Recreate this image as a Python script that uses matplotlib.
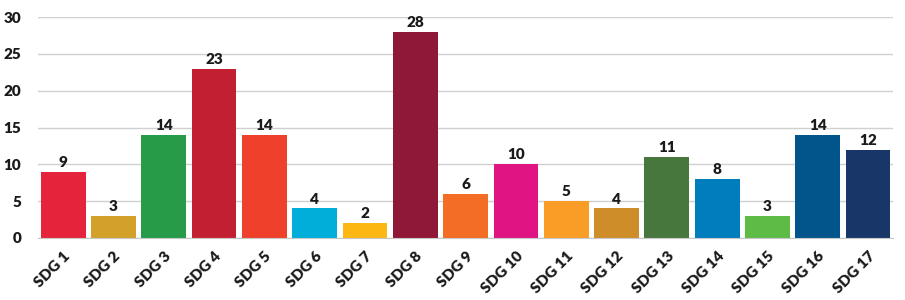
import matplotlib.pyplot as plt

labels = ["SDG %d" % i for i in range(1, 18)]
values = [9, 3, 14, 23, 14, 4, 2, 28, 6, 10, 5, 4, 11, 8, 3, 14, 12]
colors = ["#E5243B", "#D3A029", "#279B48", "#C31F33", "#EF402B", "#00AED9",
          "#FDB713", "#8F1838", "#F36D25", "#E11484", "#F99D26", "#CF8D2A",
          "#48773E", "#007DBC", "#5DBB46", "#02558B", "#183668"]

plt.rcParams['font.family'] = ['Lato', 'DejaVu Sans']
plt.rcParams['font.weight'] = 'heavy'

fig = plt.figure(figsize=(9.05, 3.0), dpi=100)
ax = fig.add_axes([0.042, 0.207, 0.945, 0.736])

x = range(len(values))
bars = ax.bar(x, values, width=0.89, color=colors, zorder=2)
for b, v in zip(bars, values):
    ax.text(b.get_x() + b.get_width() / 2, v + 0.4, str(v), ha='center', va='bottom',
            fontsize=11, fontweight='heavy', color='#1a1a1a')

ax.set_xlim(-0.5, len(values) - 0.5)
ax.set_ylim(0, 30)
ax.set_yticks(range(0, 31, 5))
ax.yaxis.grid(True, color='#d0d0d0', linewidth=1, zorder=0)
ax.set_xticks(list(x))
ax.set_xticklabels(labels, rotation=45, ha='right', rotation_mode='anchor', fontsize=10.5)
ax.tick_params(axis='both', length=0, labelsize=11, colors='#1a1a1a')
ax.tick_params(axis='x', pad=8)
ax.tick_params(axis='y', pad=12)
for s in ['top', 'right', 'left']:
    ax.spines[s].set_visible(False)
ax.spines['bottom'].set_color('#c8c8c8')

fig.savefig('out.png', dpi=100)
